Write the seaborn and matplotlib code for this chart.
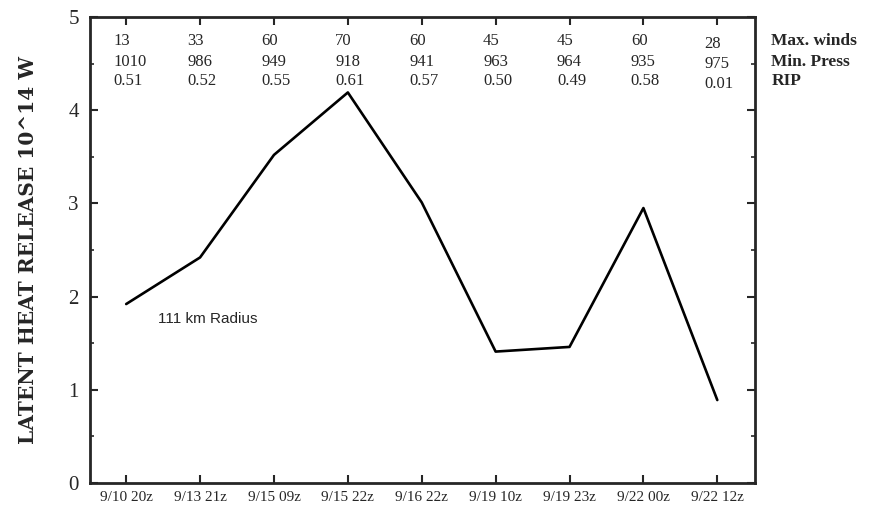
import numpy as np
import pandas as pd
import matplotlib
matplotlib.use("Agg")
import matplotlib.pyplot as plt
import seaborn as sns

sns.set_style("ticks")
plt.rcParams['font.family'] = ['Liberation Serif', 'DejaVu Serif']

times = ["9/10 20z", "9/13 21z", "9/15 09z", "9/15 22z", "9/16 22z",
         "9/19 10z", "9/19 23z", "9/22 00z", "9/22 12z"]
heat = [1.92, 2.42, 3.52, 4.19, 3.01, 1.41, 1.46, 2.95, 0.89]
max_winds = ["13", "33", "60", "70", "60", "45", "45", "60", "28"]
min_press = ["1010", "986", "949", "918", "941", "963", "964", "935", "975"]
rip = ["0.51", "0.52", "0.55", "0.61", "0.57", "0.50", "0.49", "0.58", "0.01"]
row_names = ["Max. winds", "Min. Press", "RIP"]

df = pd.DataFrame({"idx": np.arange(len(times)), "heat": heat})

fig = plt.figure(figsize=(8.71, 5.14), dpi=100)
ax = fig.add_axes([0.1033, 0.0603, 0.7635, 0.9067])
sns.lineplot(data=df, x="idx", y="heat", ax=ax, color="black", linewidth=1.9)

ax.set_xlim(-0.49, 8.51)
ax.set_ylim(0, 5)
ax.set_xticks(df["idx"])
ax.set_xticklabels(times, fontsize=11)
ax.set_yticks([0, 1, 2, 3, 4, 5])
ax.set_yticklabels(["0", "1", "2", "3", "4", "5"], fontsize=15)
ax.set_yticks(np.arange(0.5, 5, 1), minor=True)
ax.tick_params(which="both", direction="in", top=True, right=True,
               width=1.5, length=6, pad=8)
ax.tick_params(which="minor", length=3, width=1.2)
ax.tick_params(axis="x", pad=6)
for s in ax.spines.values():
    s.set_linewidth(2)

ax.set_xlabel("")
ax.set_ylabel("LATENT HEAT RELEASE 10^14 W", fontsize=14.5, fontweight="bold",
              family=["DejaVu Serif"], labelpad=22)

# table of storm parameters along the top
row_y = [4.74, 4.52, 4.31]
for i in range(len(times)):
    dy = -0.03 if i == len(times) - 1 else 0
    for vals, y in zip([max_winds, min_press, rip], row_y):
        ax.text(i - 0.17, y + dy, vals[i], fontsize=12, ha="left", va="center")
for name, y in zip(row_names, row_y):
    ax.text(8.73, y, name, fontsize=12.5, fontweight="bold", ha="left",
            va="center", clip_on=False)

ax.text(0.43, 1.76, "111 km Radius", fontsize=11, ha="left", va="center",
        family=["Liberation Sans", "DejaVu Sans"])

fig.savefig("out.png", dpi=100)
